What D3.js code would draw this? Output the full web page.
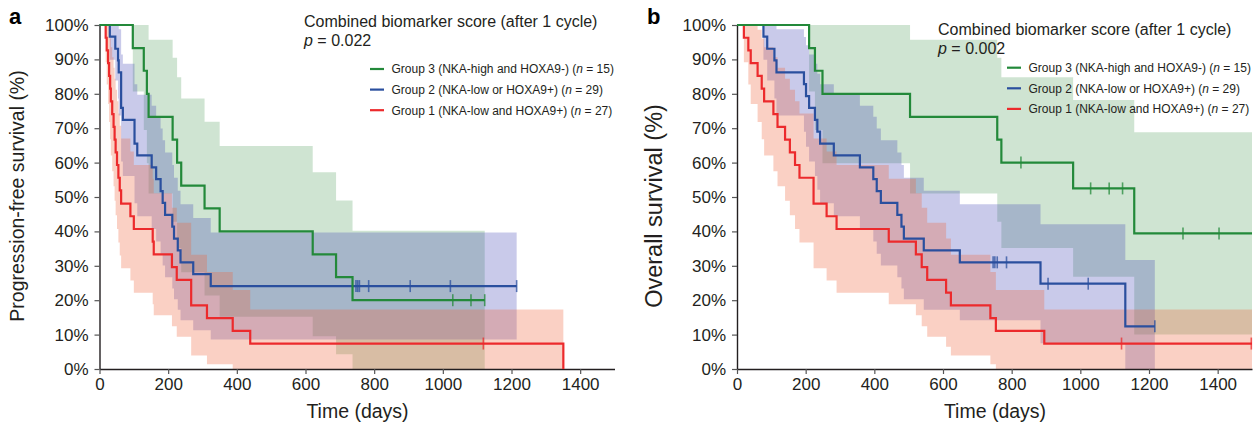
<!DOCTYPE html>
<html><head><meta charset="utf-8">
<script src="https://cdn.jsdelivr.net/npm/d3@7"></script>
<style>
body{margin:0;background:#fff}
svg{display:block}
text{font-family:"Liberation Sans",Arial,Helvetica,sans-serif;fill:#231f20}
</style>
</head><body>
<svg id="chart" width="1258" height="429"></svg>
<script>
// ---------- Panel a : progression-free survival ----------
const pfsG3Time = [0, 97, 129, 138, 143, 213, 226, 238, 306, 350, 621, 689, 737];
const pfsG3Surv = [100, 93.3, 86.7, 80, 73.3, 66.7, 60, 53.3, 46.7, 40, 33.3, 26.7, 20];
const pfsG3Lo   = [100, 80.7, 69.5, 59.8, 51.0, 42.8, 35.2, 28.1, 21.4, 15.2, 9.5, 4.3, 0];
const pfsG3Hi   = [100, 100, 100, 100, 95.7, 90.5, 84.8, 78.6, 71.9, 64.8, 57.2, 49.0, 40.2];
const pfsG3Cens = [1029, 1082, 1122];
const pfsG3End  = 1122;

const pfsG2Time = [0, 30, 46, 54, 56, 63, 68, 102, 110, 152, 165, 178, 184, 191, 212, 217, 228, 236, 273, 324];
const pfsG2Surv = [100, 96.6, 93.1, 89.7, 86.2, 75.9, 72.4, 65.5, 62.1, 58.6, 55.2, 51.7, 48.3, 44.8, 41.4, 37.9, 34.5, 31.0, 27.6, 24.1];
const pfsG2Lo   = [100, 89.9, 83.9, 78.6, 73.7, 60.3, 56.1, 48.2, 44.4, 40.7, 37.1, 33.5, 30.1, 26.7, 23.4, 20.3, 17.2, 14.2, 11.3, 8.6];
const pfsG2Hi   = [100, 100, 100, 100, 98.8, 91.4, 88.7, 82.8, 79.7, 76.5, 73.3, 69.9, 66.5, 62.9, 59.3, 55.6, 51.8, 47.9, 43.9, 39.7];
const pfsG2Cens = [747, 752, 757, 784, 905, 1022, 1215];
const pfsG2End  = 1215;

const pfsG1Time = [0, 18, 21, 25, 28, 31, 33, 37, 41, 44, 47, 51, 55, 59, 63, 90, 100, 155, 158, 211, 225, 267, 313, 388, 439, 1351];
const pfsG1Surv = [100, 96.3, 92.6, 88.9, 85.2, 81.5, 77.8, 74.1, 70.4, 66.7, 63.0, 59.3, 55.6, 51.9, 48.1, 44.4, 40.7, 37.0, 33.3, 29.6, 25.9, 18.5, 14.8, 11.1, 7.4, 0];
const pfsG1Lo   = [100, 89.2, 82.7, 77.0, 71.8, 66.8, 62.1, 57.5, 53.1, 48.9, 44.7, 40.7, 36.8, 33.0, 29.3, 25.7, 22.2, 18.8, 15.6, 12.4, 9.4, 3.9, 1.4, 0, 0, 0];
const pfsG1Hi   = [100, 100, 100, 100, 98.6, 96.1, 93.5, 90.6, 87.6, 84.4, 81.2, 77.8, 74.3, 70.7, 67.0, 63.2, 59.3, 55.3, 51.1, 46.9, 42.5, 33.2, 28.2, 23.0, 17.3, 0];
const pfsG1Cens = [1118];
const pfsG1End  = 1351;

// ---------- Panel b : overall survival ----------
const osG3Time = [0, 210, 227, 249, 504, 758, 770, 979, 1157];
const osG3Surv = [100, 93.3, 86.7, 80.0, 73.3, 66.7, 60.0, 52.5, 39.4];
const osG3Lo   = [100, 80.7, 69.5, 59.8, 51.0, 42.8, 35.2, 26.8, 10.0];
const osG3Hi   = [100, 100, 100, 100, 95.7, 90.5, 84.8, 78.2, 68.8];
const osG3Cens = [827, 1030, 1084, 1123, 1299, 1404];
const osG3End  = 1500;

const osG2Time = [0, 77, 88, 109, 115, 195, 201, 210, 227, 234, 242, 282, 358, 397, 407, 419, 467, 479, 486, 544, 649, 884, 1131];
const osG2Surv = [100, 96.6, 93.1, 89.7, 86.2, 82.8, 79.3, 75.9, 72.4, 69.0, 65.5, 62.1, 58.6, 55.2, 51.7, 48.3, 44.8, 41.4, 37.9, 34.5, 31.0, 24.8, 12.4];
const osG2Lo   = [100, 89.9, 83.9, 78.6, 73.7, 69.0, 64.6, 60.3, 56.1, 52.1, 48.2, 44.4, 40.7, 37.1, 33.5, 30.1, 26.7, 23.4, 20.3, 17.2, 14.2, 7.5, 0];
const osG2Hi   = [100, 100, 100, 100, 98.8, 96.5, 94.1, 91.4, 88.7, 85.8, 82.8, 79.7, 76.5, 73.3, 69.9, 66.5, 62.9, 59.3, 55.6, 51.8, 47.9, 42.1, 31.7];
const osG2Cens = [746, 751, 758, 785, 906, 1023, 1217];
const osG2End  = 1217;

const osG1Time = [0, 20, 33, 40, 60, 72, 79, 106, 118, 140, 154, 169, 182, 223, 261, 290, 442, 521, 538, 554, 609, 623, 738, 754, 895];
const osG1Surv = [100, 96.3, 92.6, 88.9, 85.2, 81.5, 77.8, 74.1, 70.4, 66.7, 63.0, 59.3, 55.6, 48.1, 44.4, 40.7, 37.0, 33.3, 29.6, 25.9, 22.2, 18.5, 14.8, 11.1, 7.4];
const osG1Lo   = [100, 89.2, 82.7, 77.0, 71.8, 66.8, 62.1, 57.5, 53.1, 48.9, 44.7, 40.7, 36.8, 29.3, 25.7, 22.2, 18.8, 15.6, 12.4, 9.4, 6.5, 3.9, 1.4, 0, 0];
const osG1Hi   = [100, 100, 100, 100, 98.6, 96.1, 93.5, 90.6, 87.6, 84.4, 81.2, 77.8, 74.3, 67.0, 63.2, 59.3, 55.3, 51.1, 46.9, 42.5, 37.9, 33.2, 28.2, 23.0, 17.3];
const osG1Cens = [1120, 1498];
const osG1End  = 1500;

// ---------- labels ----------
const xTicks = [0, 200, 400, 600, 800, 1000, 1200, 1400];
const yTicks = [0, 10, 20, 30, 40, 50, 60, 70, 80, 90, 100];
const legendLabels = [
  ["Group 3 (NKA-high and HOXA9-) (", "15"],
  ["Group 2 (NKA-low or HOXA9+) (", "29"],
  ["Group 1 (NKA-low and HOXA9+) (", "27"]
];
const lineColors = ["#23893a", "#2a4f9e", "#ec2a2c"];
const bandColors = ["#2f8a3c", "#3c3fb4", "#f0643c"];
const bandOpacity = [0.23, 0.28, 0.30];

const svg = d3.select("#chart");

function panel(o) {
  const g = svg.append("g");
  const x = d3.scaleLinear().domain([0, 1500]).range([o.x0, o.x0 + 515]);
  const y = d3.scaleLinear().domain([0, 100]).range([369, 25]);

  const groups = o.groups.map((gr, i) => {
    const pts = gr.time.map((t, k) => ({t, s: gr.surv[k], lo: gr.lo[k], hi: gr.hi[k]}));
    const last = pts[pts.length - 1];
    if (gr.end > last.t) pts.push({t: gr.end, s: last.s, lo: last.lo, hi: last.hi});
    return {pts, cens: gr.cens, i};
  });

  const area = d3.area().curve(d3.curveStepAfter)
    .x(d => x(d.t)).y0(d => y(d.lo)).y1(d => y(d.hi));
  const line = d3.line().curve(d3.curveStepAfter)
    .x(d => x(d.t)).y(d => y(d.s));

  // bands
  groups.forEach(gr => {
    g.append("path").attr("d", area(gr.pts))
      .attr("fill", bandColors[gr.i]).attr("fill-opacity", bandOpacity[gr.i]).attr("stroke", "none");
  });

  // axes
  const ya = g.append("g").attr("transform", `translate(${o.x0},0)`)
    .call(d3.axisLeft(y).tickValues(yTicks).tickFormat(d => d + "%").tickSize(5).tickPadding(6).tickSizeOuter(0));
  const xa = g.append("g").attr("transform", `translate(0,369)`)
    .call(d3.axisBottom(x).tickValues(xTicks).tickFormat(d3.format("d")).tickSize(5).tickPadding(4).tickSizeOuter(0));
  [ya, xa].forEach(a => {
    a.selectAll("text").attr("font-size", 17).attr("font-family", null).style("fill", "#231f20");
    a.selectAll(".tick line").attr("stroke", "#555").attr("stroke-width", 1.2);
    a.select(".domain").attr("stroke", "#231f20").attr("stroke-width", 1.4);
  });

  // curves (red, blue, green order so green on top)
  [2, 1, 0].forEach(i => {
    const gr = groups[i];
    g.append("path").attr("d", line(gr.pts)).attr("fill", "none")
      .attr("stroke", lineColors[i]).attr("stroke-width", 2.2);
    gr.cens.forEach(c => {
      let s = gr.pts[0].s;
      gr.pts.forEach(p => { if (p.t <= c) s = p.s; });
      g.append("line").attr("x1", x(c)).attr("x2", x(c))
        .attr("y1", y(s) - 6).attr("y2", y(s) + 6)
        .attr("stroke", lineColors[i]).attr("stroke-width", 1.6).attr("stroke-opacity", 0.75);
    });
  });

  // axis titles
  g.append("text").attr("x", o.x0 + 258).attr("y", 418).attr("text-anchor", "middle")
    .attr("font-size", 19.5).text("Time (days)");
  g.append("text").attr("transform", `translate(${o.ylx},${o.yly}) rotate(-90)`)
    .attr("text-anchor", "middle").attr("font-size", o.ylsize).text(o.ylabel);

  // panel letter
  g.append("text").attr("x", o.letterX).attr("y", 24).attr("font-size", 22)
    .attr("font-weight", "bold").style("fill", "#000").text(o.letter);

  // title
  g.append("text").attr("x", o.tx).attr("y", o.ty).attr("font-size", 16)
    .text("Combined biomarker score (after 1 cycle)");
  const pt = g.append("text").attr("x", o.tx).attr("y", o.ty + 18.5).attr("font-size", 16);
  pt.append("tspan").attr("font-style", "italic").text("p");
  pt.append("tspan").text(" = " + o.p);

  // legend
  legendLabels.forEach((lab, i) => {
    const yy = o.ly + i * 20.6;
    g.append("line").attr("x1", o.lx).attr("x2", o.lx + 14).attr("y1", yy).attr("y2", yy)
      .attr("stroke", lineColors[i]).attr("stroke-width", 2.2);
    const t = g.append("text").attr("x", o.lx + 21.5).attr("y", yy + 4.3).attr("font-size", 12);
    t.append("tspan").text(lab[0]);
    t.append("tspan").attr("font-style", "italic").text("n");
    t.append("tspan").text(" = " + lab[1] + ")");
  });
}

panel({
  x0: 99.5, letter: "a", letterX: 9, ylabel: "Progression-free survival (%)", ylx: 24, yly: 196, ylsize: 19.5,
  tx: 304, ty: 27, p: "0.022", lx: 370, ly: 69,
  groups: [
    {time: pfsG3Time, surv: pfsG3Surv, lo: pfsG3Lo, hi: pfsG3Hi, cens: pfsG3Cens, end: pfsG3End},
    {time: pfsG2Time, surv: pfsG2Surv, lo: pfsG2Lo, hi: pfsG2Hi, cens: pfsG2Cens, end: pfsG2End},
    {time: pfsG1Time, surv: pfsG1Surv, lo: pfsG1Lo, hi: pfsG1Hi, cens: pfsG1Cens, end: pfsG1End}
  ]
});
panel({
  x0: 737, letter: "b", letterX: 647, ylabel: "Overall survival (%)", ylx: 662, yly: 206, ylsize: 23.5,
  tx: 938, ty: 35, p: "0.002", lx: 1007, ly: 67.7,
  groups: [
    {time: osG3Time, surv: osG3Surv, lo: osG3Lo, hi: osG3Hi, cens: osG3Cens, end: osG3End},
    {time: osG2Time, surv: osG2Surv, lo: osG2Lo, hi: osG2Hi, cens: osG2Cens, end: osG2End},
    {time: osG1Time, surv: osG1Surv, lo: osG1Lo, hi: osG1Hi, cens: osG1Cens, end: osG1End}
  ]
});
</script>
</body></html>
